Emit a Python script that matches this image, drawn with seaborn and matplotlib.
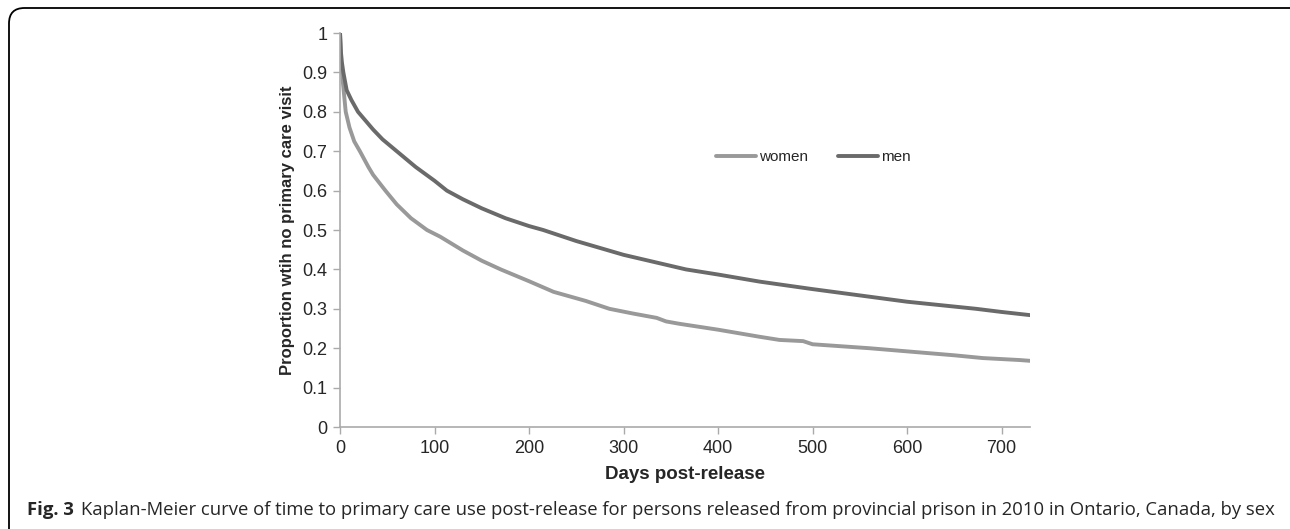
import pandas as pd
import matplotlib.pyplot as plt
import seaborn as sns
from matplotlib.patches import FancyBboxPatch
from matplotlib.ticker import FormatStrFormatter

sns.set_style("white")
plt.rcParams['font.family'] = ['Liberation Sans', 'DejaVu Sans']

# values
men_days = [0, 1, 2, 3.5, 7, 12, 19, 35, 45, 60, 80, 100, 113, 130, 150, 175, 200, 215, 250,
            300, 366, 400, 444, 500, 550, 600, 673, 700, 730]
men_prop = [1.0, 0.95, 0.925, 0.90, 0.855, 0.83, 0.80, 0.755, 0.73, 0.70, 0.66, 0.625, 0.60, 0.578,
            0.555, 0.53, 0.51, 0.50, 0.472, 0.437, 0.40, 0.387, 0.369, 0.350, 0.334, 0.318, 0.30,
            0.292, 0.284]

women_days = [0, 1, 2, 4, 6, 10, 15, 21, 30, 35, 48, 60, 75, 92, 106, 130, 150, 170, 200, 226,
              260, 285, 310, 335, 345, 359, 400, 444, 465, 490, 500, 530, 560, 585, 620, 650, 680,
              719, 730]
women_prop = [1.0, 0.93, 0.90, 0.85, 0.80, 0.76, 0.725, 0.70, 0.66, 0.64, 0.60, 0.565, 0.53, 0.50,
              0.483, 0.448, 0.422, 0.40, 0.37, 0.343, 0.32, 0.30, 0.288, 0.277, 0.268, 0.262, 0.247,
              0.229, 0.221, 0.218, 0.21, 0.205, 0.20, 0.195, 0.188, 0.182, 0.175, 0.170, 0.168]

df = pd.concat([
    pd.DataFrame({'days': women_days, 'prop': women_prop, 'sex': 'women'}),
    pd.DataFrame({'days': men_days, 'prop': men_prop, 'sex': 'men'}),
])

fig = plt.figure(figsize=(12.9, 5.29), dpi=100)
ax = fig.add_axes([0.2636, 0.1928, 0.5348, 0.7448])

sns.lineplot(data=df, x='days', y='prop', hue='sex', palette={'women': '#999999', 'men': '#6a6a6a'},
             linewidth=2.8, ax=ax, estimator=None, sort=True)

ax.set_xlim(0, 730)
ax.set_ylim(0, 1)
ax.set_xticks(range(0, 701, 100))
ax.set_yticks([i / 10 for i in range(11)])
ax.yaxis.set_major_formatter(FormatStrFormatter('%g'))
ax.tick_params(axis='both', labelsize=13, length=5, width=1, color='#aaaaaa', direction='out',
               left=True, bottom=True, pad=4)
for side in ['top', 'right']:
    ax.spines[side].set_visible(False)
for side in ['left', 'bottom']:
    ax.spines[side].set_color('#aaaaaa')
    ax.spines[side].set_linewidth(1.2)

ax.set_xlabel('Days post-release', fontsize=13.5, fontweight='bold', labelpad=7)
ax.set_ylabel('Proportion wtih no primary care visit', fontsize=12, fontweight='bold', labelpad=5)

ax.legend(frameon=False, ncol=2, fontsize=11, loc='center left', bbox_to_anchor=(0.525, 0.685),
          handlelength=2.6, handletextpad=0.2, columnspacing=2.0)

# frame around the figure (runs off the right and bottom edges)
frame = FancyBboxPatch((9 / 1290, -0.2), 1.3, 1.2 - 8 / 529,
                       boxstyle='round,pad=0,rounding_size=0.012', transform=fig.transFigure,
                       fill=False, edgecolor='black', linewidth=1.3, mutation_aspect=1290 / 529)
fig.patches.append(frame)

fig.text(27 / 1290, 1 - 510 / 529, 'Fig. 3', fontsize=13.3, fontweight='bold',
         family=['Open Sans', 'DejaVu Sans'], va='center', ha='left')
fig.text(81 / 1290, 1 - 510 / 529,
         'Kaplan-Meier curve of time to primary care use post-release for persons released from '
         'provincial prison in 2010 in Ontario, Canada, by sex',
         fontsize=13.3, family=['Open Sans', 'DejaVu Sans'], va='center', ha='left')

fig.savefig('out.png', dpi=100)
